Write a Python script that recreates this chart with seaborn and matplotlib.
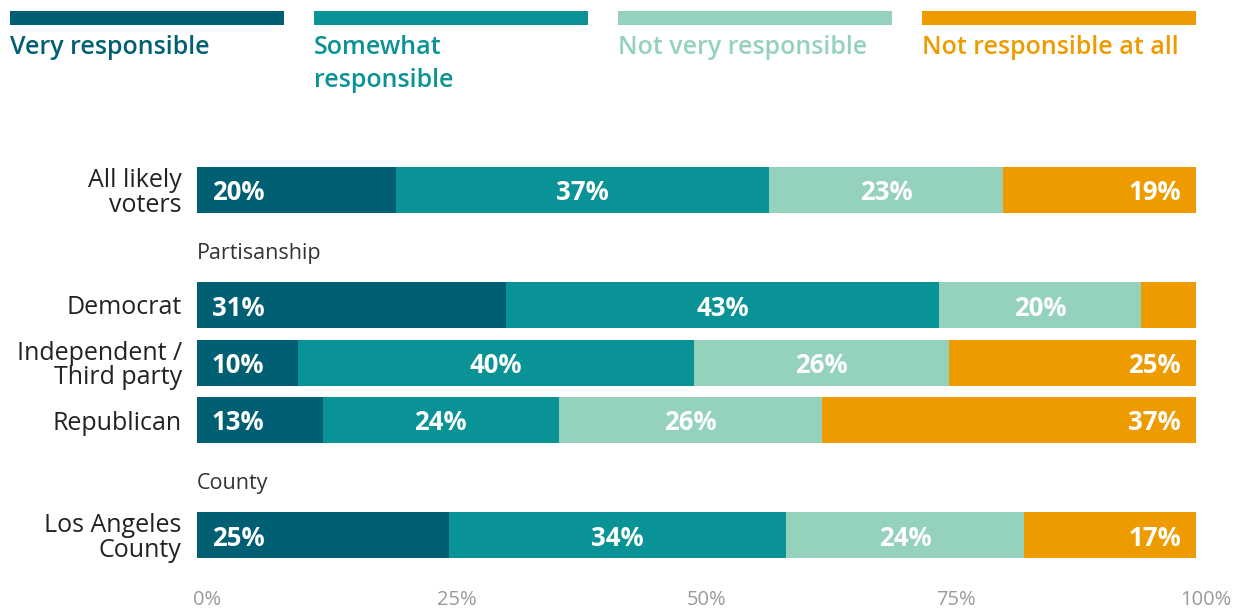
import numpy as np
import pandas as pd
import matplotlib
matplotlib.use("Agg")
import matplotlib.pyplot as plt
import seaborn as sns
from matplotlib.patches import Rectangle
from matplotlib.transforms import ScaledTranslation

# ---- data ----
groups = ["All likely\nvoters", "Democrat", "Independent /\nThird party", "Republican", "Los Angeles\nCounty"]
positions = [0, 2, 3, 4, 6]
sections = ["Partisanship", "County"]
section_pos = [1.1, 5.1]
series = ["Very responsible", "Somewhat\nresponsible", "Not very responsible", "Not responsible at all"]
very = [19.9, 30.9, 10.1, 12.6, 25.2]
somewhat = [37.4, 43.4, 39.6, 23.6, 33.8]
not_very = [23.4, 20.2, 25.6, 26.4, 23.8]
not_at_all = [19.3, 5.5, 24.7, 37.4, 17.2]
colors = ["#005f73", "#0a9396", "#94d2bd", "#ee9b00"]
xticks = [0, 25, 50, 75, 100]
xticklabels = ["0%", "25%", "50%", "75%", "100%"]

sns.set_theme(style="white")
plt.rcParams["font.family"] = ["Open Sans", "DejaVu Sans"]

W, H = 1237, 613
fig = plt.figure(figsize=(W / 100, H / 100), dpi=100)
ax_top, ax_bot = 140, 580
ax_left, ax_right = 197, 1196
ax = fig.add_axes([ax_left / W, (H - ax_bot) / H, (ax_right - ax_left) / W, (ax_bot - ax_top) / H])

vals = np.array([very, somewhat, not_very, not_at_all])
totals = vals.sum(axis=0)
norm = vals / totals * 100
cum = np.cumsum(norm, axis=0)

for k in range(3, -1, -1):
    df = pd.DataFrame({"pos": positions, "value": cum[k]})
    sns.barplot(data=df, x="value", y="pos", orient="y", native_scale=True,
                color=colors[k], width=0.8, linewidth=0, saturation=1,
                errorbar=None, ax=ax)

unit_px = 57.5
ax.set_ylim(6 + (ax_bot - 535) / unit_px, 0 - (190 - ax_top) / unit_px)
ax.set_xlim(0, 100)

pad = 15 * 100 / (ax_right - ax_left)
for i, p in enumerate(positions):
    for k in range(4):
        v = vals[k][i]
        if v < 6:
            continue
        start = cum[k][i] - norm[k][i]
        end = cum[k][i]
        if k == 0:
            x, ha = start + pad, "left"
        elif k == 3:
            x, ha = end - pad, "right"
        else:
            x, ha = (start + end) / 2, "center"
        ax.text(x, p, f"{v:.0f}%", ha=ha, va="center_baseline", color="white",
                fontsize=18.5, fontweight="bold")

ax.set_yticks(positions)
ax.set_yticklabels(groups, fontsize=18, color="#222222")
for lab in ax.get_yticklabels():
    lab.set_linespacing(0.98)
    lab.set_multialignment("right")
ax.tick_params(axis="y", length=0, pad=11)

for s, sp in zip(sections, section_pos):
    ax.text(0, sp, s, ha="left", va="center", fontsize=15.5, color="#333333")

ax.set_xticks(xticks)
ax.set_xticklabels(xticklabels, fontsize=14.5, color="#9a9a9a")
ax.tick_params(axis="x", length=0, pad=7)
off = ScaledTranslation(7 / 72, 0, fig.dpi_scale_trans)
for lab in ax.get_xticklabels():
    lab.set_transform(lab.get_transform() + off)

for sp in ax.spines.values():
    sp.set_visible(False)
ax.grid(False)
ax.set_xlabel("")
ax.set_ylabel("")

leg_x = [10, 314, 618, 922]
leg_w = 274
for k in range(4):
    fig.add_artist(Rectangle((leg_x[k] / W, (H - 25) / H), leg_w / W, 14 / H,
                             transform=fig.transFigure, color=colors[k], linewidth=0))
    fig.text(leg_x[k] / W, (H - 35) / H, series[k], ha="left", va="top",
             fontsize=18, fontweight="semibold", color=colors[k], linespacing=1.4)

fig.savefig("out.png", dpi=100)
